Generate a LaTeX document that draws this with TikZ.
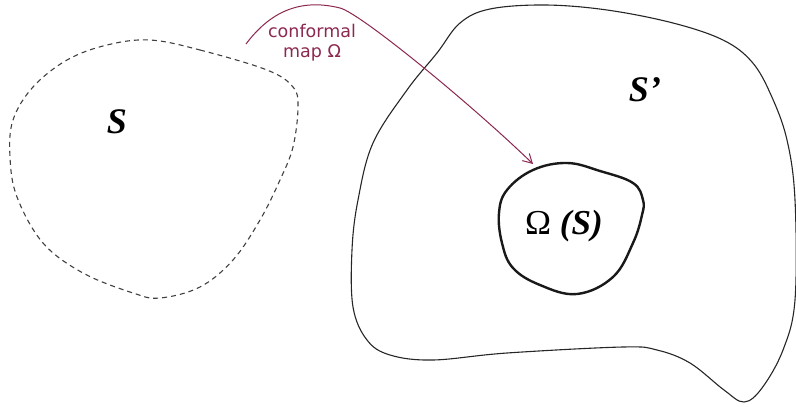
\documentclass[tikz,border=0pt]{standalone}
\usepackage{fontspec}
\setmainfont{Liberation Serif}
\newfontfamily\labelsans{DejaVu Sans}
\usetikzlibrary{arrows.meta}
\definecolor{mapred}{RGB}{140,40,80}
\tikzset{
  region/.style={draw=black!85, line width=1.1pt},
  image/.style={draw=black!90, line width=2.4pt},
  preimage/.style={draw=black!75, line width=1.1pt, dash pattern=on 5pt off 4pt},
  maparrow/.style={draw=mapred, line width=1pt, -{Straight Barb[length=9pt,width=10pt]}},
  maplabel/.style={text=mapred, font=\labelsans\fontsize{17.5}{20}\selectfont, inner sep=0pt},
  setname/.style={font=\fontsize{36}{38}\selectfont\bfseries\itshape, inner sep=0pt},
  imgname/.style={font=\fontsize{35}{37}\selectfont, inner sep=0pt}
}
\begin{document}
\begin{tikzpicture}[x=1pt,y=-1pt]
\useasboundingbox (0,0) rectangle (796,407);

% domain S (dashed)
\draw[preimage] plot[smooth cycle, tension=0.6] coordinates {
  (150,40) (200,50) (267,70) (293,87) (298,107) (293,147) (280,180)
  (260,220) (233,260) (200,287) (160,298) (133,293) (83,273) (43,243)
  (17,197) (10,157) (13,120) (33,87) (67,60) (107,45)};

% target region S'
\draw[region] plot[smooth cycle, tension=0.6] coordinates {
  (460,23) (490,9) (545,5) (607,10) (673,23) (723,40) (752,62) (771,95)
  (787,140) (795,200) (795,300) (783,350) (762,388) (744,402) (724,390)
  (690,363) (657,350) (623,347) (507,353) (433,360) (390,355) (367,340)
  (353,307) (352,250) (358,200) (373,143) (407,90) (437,53)};

% image Omega(S)
\draw[image] plot[smooth cycle, tension=0.65] coordinates {
  (567,163) (600,171) (633,183) (643,200) (642,215) (633,243) (613,277)
  (577,294) (540,285) (513,268) (502,243) (499,213) (507,190) (533,170)};

% labels
\node[setname, anchor=base] (s) at (117,133) {S};
\node[setname, anchor=base] (sp) at (645,101) {S’};
\node[imgname, anchor=base] (os) at (564,234) {Ω \textbf{\textit{(S)}}};

% the map
\coordinate (mapstart) at (246,44);
\coordinate (mapend) at (533,164);
\draw[maparrow] (mapstart) .. controls (270,12) and (300,-2) .. (340,8)
  .. controls (360,13) and (470,103) .. (mapend);
\node[maplabel, anchor=base] (lab1) at (312,37) {conformal};
\node[maplabel, anchor=base] (lab2) at (312,57) {map Ω};
\end{tikzpicture}
\end{document}
